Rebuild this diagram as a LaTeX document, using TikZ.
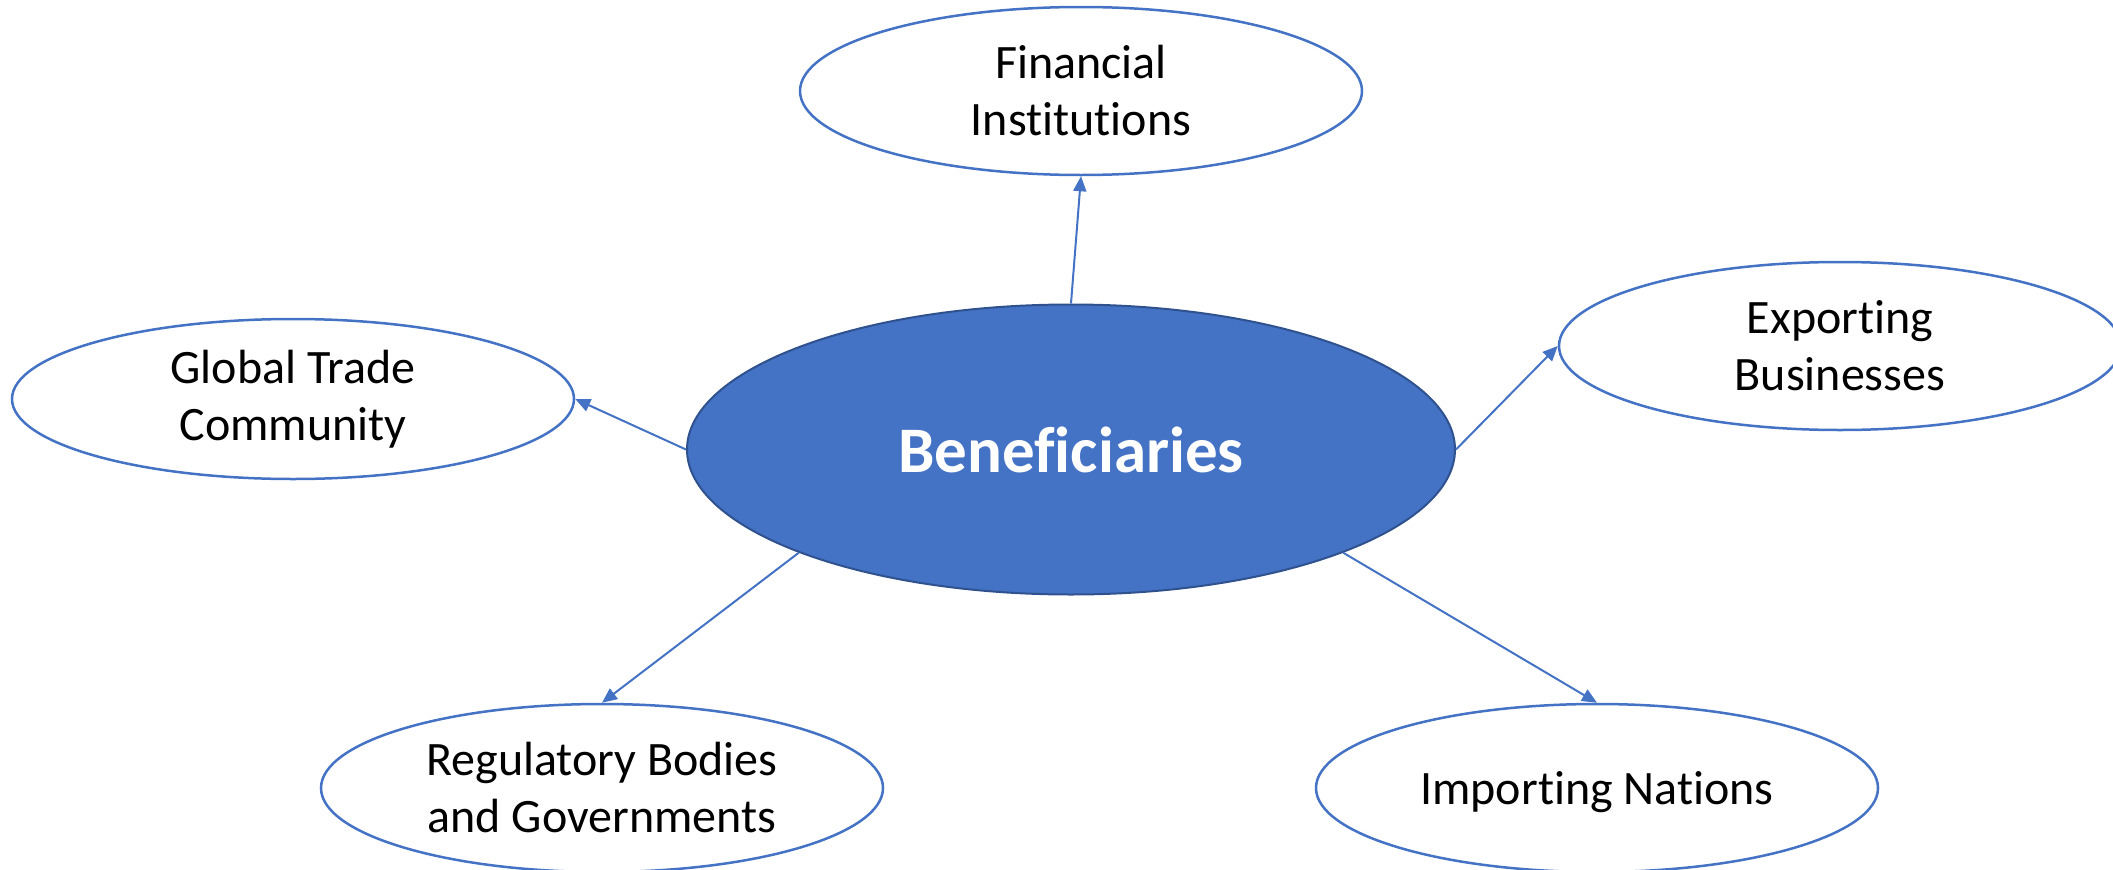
\documentclass[tikz,border=0pt]{standalone}
\usepackage{fontspec}
\setmainfont[Ligatures=NoCommon]{Carlito}
\usetikzlibrary{shapes.geometric,arrows.meta}
\definecolor{offblue}{HTML}{4472C4}
\definecolor{darkblue}{HTML}{2F528F}
\tikzset{
  hub/.style={ellipse, fill=offblue, draw=darkblue, line width=2pt, inner sep=0pt,
    minimum width=768pt, minimum height=290pt, text=white,
    font=\fontsize{65}{76}\selectfont\bfseries},
  leaf/.style={ellipse, draw=offblue, line width=2.5pt, inner sep=0pt, fill=white,
    minimum width=562pt, minimum height=168pt, align=center,
    font=\fontsize{48}{57}\selectfont},
  link/.style={draw=offblue, line width=2pt, -{Triangle[length=15pt,width=13pt]}}
}
\begin{document}
\begin{tikzpicture}[x=1pt,y=-1pt]
\useasboundingbox (0,0) rectangle (2113,870);
\node[hub] (c) at (1071,449.5) {Beneficiaries};
\node[leaf] (fin) at (1081,91) {Financial\\Institutions};
\node[leaf, minimum height=160pt] (glob) at (293,399) {Global Trade\\Community};
\node[leaf] (exp) at (1840,346) {Exporting\\Businesses};
\node[leaf] (reg) at (602,788) {Regulatory Bodies\\and Governments};
\node[leaf, text depth=0pt] (imp) at (1597,788) {Importing Nations};
\draw[link] (c.north) -- (fin.south);
\draw[link] (c.west) -- (glob.east);
\draw[link] (c.east) -- (exp.west);
\draw[link] (c.south west) -- (reg.north);
\draw[link] (c.south east) -- (imp.north);
\end{tikzpicture}
\end{document}
